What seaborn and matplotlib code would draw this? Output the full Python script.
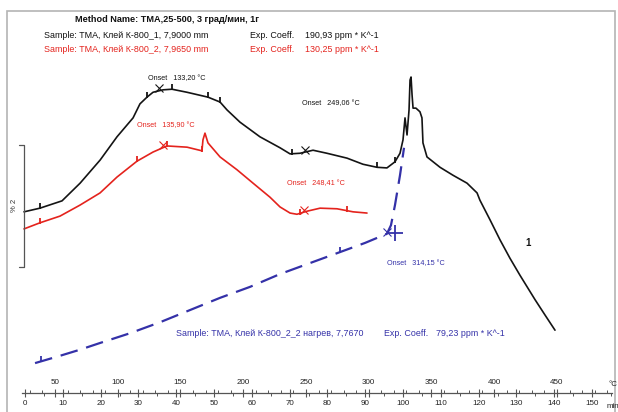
import numpy as np
import pandas as pd
import matplotlib
matplotlib.use("Agg")
import matplotlib.pyplot as plt
from matplotlib.patches import Rectangle
from matplotlib.ticker import MultipleLocator
import seaborn as sns

# ---- data: temperature (°C) vs relative length change (%) ----
t_black = [25.3, 38.0, 55.6, 70.0, 86.0, 99.4, 112.2, 117.7, 123.3, 128.1, 136.1, 143.2,
           155.2, 171.9, 181.5, 187.1, 197.4, 213.3, 229.3, 237.3, 245.2, 255.6, 266.7,
           282.7, 295.4, 306.6, 314.5, 320.9, 324.9, 327.3, 328.9, 330.5, 332.1, 332.9,
           333.7, 334.5, 335.3, 337.6, 340.8, 342.4, 343.2, 346.4, 356.8, 367.1, 378.3,
           386.3, 388.6, 396.6, 404.6, 412.5, 420.5, 432.5, 440.4, 448.4]
y_black = [2.97, 3.03, 3.15, 3.44, 3.82, 4.20, 4.51, 4.74, 4.85, 4.93, 4.97, 4.98,
           4.93, 4.85, 4.77, 4.64, 4.44, 4.20, 4.02, 3.92, 3.93, 3.98, 3.93,
           3.85, 3.75, 3.70, 3.69, 3.79, 3.93, 4.15, 4.51, 4.23, 4.64, 5.13,
           5.18, 4.89, 4.67, 4.67, 4.61, 4.51, 4.10, 3.87, 3.70, 3.57, 3.44,
           3.28, 3.16, 2.84, 2.51, 2.21, 1.93, 1.53, 1.28, 1.03]

t_red = [25.3, 38.0, 54.0, 69.9, 85.9, 99.4, 115.3, 128.1, 139.2, 155.2, 167.1, 167.9,
         169.5, 171.9, 181.5, 195.0, 207.8, 221.3, 229.3, 237.3, 242.8, 250.8, 261.2,
         274.7, 287.5, 298.6]
y_red = [2.69, 2.79, 2.90, 3.08, 3.28, 3.54, 3.80, 3.95, 4.05, 4.03, 3.97, 4.15,
         4.26, 4.10, 3.87, 3.66, 3.44, 3.21, 3.05, 2.95, 2.93, 2.98, 3.03,
         3.02, 2.97, 2.95]

t_blue = [34.1, 54.0, 69.9, 85.9, 109.8, 133.7, 157.6, 181.5, 205.4, 229.3, 253.2,
          277.1, 297.0, 314.5, 317.7, 320.9, 324.9, 328.1]
y_blue = [0.49, 0.61, 0.71, 0.82, 0.98, 1.16, 1.36, 1.56, 1.74, 1.95, 2.13,
          2.31, 2.46, 2.61, 2.75, 3.08, 3.57, 4.02]

# evaluation limit ticks on each curve (°C)
lim_black = [38.0, 123.3, 143.2, 171.9, 181.5, 239.0, 306.6, 320.9]
lim_red = [38.0, 115.3, 139.2, 167.1, 245.0, 283.0]
lim_blue = [39.0, 277.1]

# onset temperatures
onset_black = [133.20, 249.06]
onset_red = [135.90, 248.41]
onset_blue = [314.15]

temp_ticks = [50, 100, 150, 200, 250, 300, 350, 400, 450]
time_ticks = [0, 10, 20, 30, 40, 50, 60, 70, 80, 90, 100, 110, 120, 130, 140, 150]

T0, RATE = 26.1, 3.012

C_BLACK = "#141414"
C_RED = "#e4231d"
C_BLUE = "#3431a8"

sns.set_theme(style="white")
plt.rcParams["font.family"] = ["Liberation Sans", "DejaVu Sans"]

W, H = 618, 412
fig = plt.figure(figsize=(W / 100, H / 100), dpi=100)
fig.patch.set_facecolor("white")


def fx(px):
    return px / W


def fy(py):
    return 1 - py / H


def px2temp(px):
    return 50 + (px - 55) / 1.255


# outer frame
fig.add_artist(Rectangle((fx(7), fy(430)), fx(615) - fx(7), fy(11) - fy(430),
                         transform=fig.transFigure, fill=False,
                         edgecolor="#b4b4b4", lw=1.2))

# main plotting area
ax = fig.add_axes([fx(8), fy(393), fx(612) - fx(8), fy(14) - fy(393)])
ax.set_xlim(px2temp(8), px2temp(612))
ax.set_ylim(0, (393 - 14) / 61)
ax.axis("off")

df_black = pd.DataFrame({"T": t_black, "dL": y_black})
df_red = pd.DataFrame({"T": t_red, "dL": y_red})
df_blue = pd.DataFrame({"T": t_blue, "dL": y_blue})

sns.lineplot(data=df_black, x="T", y="dL", ax=ax, color=C_BLACK, lw=1.2,
             sort=False, estimator=None)
sns.lineplot(data=df_red, x="T", y="dL", ax=ax, color=C_RED, lw=1.2,
             sort=False, estimator=None)
sns.lineplot(data=df_blue, x="T", y="dL", ax=ax, color=C_BLUE, lw=1.6,
             sort=False, estimator=None)
ax.lines[-1].set_dashes([8, 4])

# evaluation limit marks and onset marks
for lims, ts, ys, col in [(lim_black, t_black, y_black, C_BLACK),
                          (lim_red, t_red, y_red, C_RED),
                          (lim_blue, t_blue, y_blue, C_BLUE)]:
    ax.plot(lims, np.interp(lims, ts, ys) + 0.03, ls="", marker="|",
            ms=5, mew=1.3, color=col)

for ons, ts, ys, col in [(onset_black, t_black, y_black, C_BLACK),
                         (onset_red, t_red, y_red, C_RED),
                         (onset_blue, t_blue, y_blue, C_BLUE)]:
    ax.plot(ons, np.interp(ons, ts, ys) + 0.04, ls="", marker="x",
            ms=6, mew=0.8, color=col)
ax.plot([321.0], [np.interp(314.15, t_blue, y_blue) + 0.02], ls="", marker="+",
        ms=11, mew=1.3, color=C_BLUE)

# onset labels
fs_on = 5.2
ax.text(124.1, 5.16, "Onset   133,20 °C", color=C_BLACK, fontsize=fs_on, va="center")
ax.text(115.3, 4.39, "Onset   135,90 °C", color=C_RED, fontsize=fs_on, va="center")
ax.text(246.8, 4.74, "Onset   249,06 °C", color=C_BLACK, fontsize=fs_on, va="center")
ax.text(234.9, 3.44, "Onset   248,41 °C", color=C_RED, fontsize=fs_on, va="center")
ax.text(314.5, 2.12, "Onset   314,15 °C", color=C_BLUE, fontsize=fs_on, va="center")
ax.text(424.5, 2.46, "1", color=C_BLACK, fontsize=7, fontweight="bold", va="center")

# 2 % scale bar
sx, sx0 = px2temp(24), px2temp(19)
ax.plot([sx0, sx, sx, sx0], [4.07, 4.07, 2.07, 2.07], color="#555555", lw=0.9,
        clip_on=False)
ax.text(px2temp(14), 3.07, "% 2", rotation=90, fontsize=5.5, ha="center",
        va="center", color="#333333")

# header
fig.text(fx(75), fy(20), "Method Name: TMA,25-500, 3 град/мин, 1г",
         fontsize=6.6, fontweight="bold", va="center", color="#111111")
fig.text(fx(44), fy(36), "Sample: TMA, Клей К-800_1, 7,9000 mm",
         fontsize=6.4, va="center", color="#111111")
fig.text(fx(44), fy(50), "Sample: TMA, Клей К-800_2, 7,9650 mm",
         fontsize=6.4, va="center", color=C_RED)
fig.text(fx(250), fy(36), "Exp. Coeff.", fontsize=6.4, va="center", color="#111111")
fig.text(fx(305), fy(36), "190,93 ppm * K^-1", fontsize=6.4, va="center", color="#111111")
fig.text(fx(250), fy(50), "Exp. Coeff.", fontsize=6.4, va="center", color=C_RED)
fig.text(fx(305), fy(50), "130,25 ppm * K^-1", fontsize=6.4, va="center", color=C_RED)
fig.text(fx(176), fy(333), "Sample: TMA, Клей К-800_2_2 нагрев, 7,7670",
         fontsize=6.4, va="center", color=C_BLUE)
fig.text(fx(384), fy(333), "Exp. Coeff.", fontsize=6.4, va="center", color=C_BLUE)
fig.text(fx(436), fy(333), "79,23 ppm * K^-1", fontsize=6.4, va="center", color=C_BLUE)

# ruler axis: temperature above, time below
rax = fig.add_axes([fx(22), fy(393), fx(612) - fx(22), 1e-6])
rax.set_xlim(px2temp(22), px2temp(612))
for s in ["left", "right", "bottom"]:
    rax.spines[s].set_visible(False)
rax.spines["top"].set_visible(True)
rax.spines["top"].set_color("#555555")
rax.spines["top"].set_linewidth(0.9)
rax.set_yticks([])
rax.set_facecolor("none")
rax.xaxis.set_ticks_position("top")
rax.set_xticks(temp_ticks)
rax.xaxis.set_minor_locator(MultipleLocator(10))
rax.tick_params(axis="x", which="major", direction="inout", length=6, width=0.8,
                colors="#555555", labelsize=5.8, labelcolor="#222222", pad=2,
                top=True, bottom=False, labeltop=True, labelbottom=False)
rax.tick_params(axis="x", which="minor", direction="out", length=2.5, width=0.7,
                colors="#555555", top=True, bottom=False)

sec = rax.secondary_xaxis("bottom", functions=(lambda T: (T - T0) / RATE,
                                               lambda t: T0 + RATE * t))
sec.set_xticks(time_ticks)
sec.xaxis.set_minor_locator(MultipleLocator(5))
sec.spines["bottom"].set_visible(False)
sec.tick_params(axis="x", which="major", direction="inout", length=6, width=0.8,
                colors="#555555", labelsize=5.8, labelcolor="#222222", pad=2)
sec.tick_params(axis="x", which="minor", direction="out", length=2.5, width=0.7,
                colors="#555555")

fig.text(fx(613), fy(385), "°C", fontsize=5.8, ha="center", va="center", color="#222222")
fig.text(fx(613), fy(407), "min", fontsize=5.8, ha="center", va="center", color="#222222")

fig.savefig("out.png", dpi=100, facecolor="white")
